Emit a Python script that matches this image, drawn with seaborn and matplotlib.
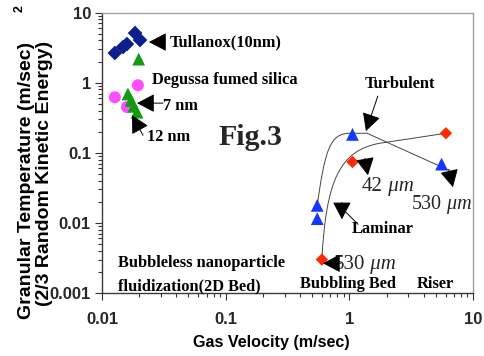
import matplotlib
matplotlib.use("Agg")
import numpy as np
import pandas as pd
import matplotlib.pyplot as plt
import seaborn as sns
from matplotlib.path import Path
from matplotlib.patches import PathPatch
from matplotlib.ticker import LogLocator, NullFormatter

# ---------------- data ----------------
tullanox_x = [0.0127, 0.0148, 0.0159, 0.0185, 0.0203]
tullanox_y = [2.65, 3.23, 3.56, 5.11, 4.06]

degussa_tri_x = [0.0198, 0.0162, 0.0172, 0.0181, 0.0192]
degussa_tri_y = [2.17, 0.69, 0.56, 0.46, 0.38]

degussa_circ_x = [0.0127, 0.0195, 0.0159]
degussa_circ_y = [0.62, 0.92, 0.45]

blue_tri_x = [0.55, 0.55, 1.06, 5.57]
blue_tri_y = [0.0178, 0.0115, 0.183, 0.069]

red_dia_x = [0.60, 1.06, 6.04]
red_dia_y = [0.0030, 0.074, 0.19]

xticks = [0.01, 0.1, 1, 10]
xtick_labels = ["0.01", "0.1", "1", "10"]
yticks = [0.001, 0.01, 0.1, 1, 10]
ytick_labels = ["0.001", "0.01", "0.1", "1", "10"]

# hand-drawn guide curves (data coordinates: start, two control points, end, then straight legs)
curve_a = [(0.55, 0.0178), (0.635, 0.109), (0.697, 0.19), (1.01, 0.19), (1.39, 0.19), (6.38, 0.0564)]
curve_b = [(0.60, 0.0030), (0.647, 0.0406), (0.84, 0.109), (1.77, 0.137), (6.04, 0.19)]

# ---------------- frame ----------------
df = pd.concat([
    pd.DataFrame({"x": tullanox_x, "y": tullanox_y, "series": "Tullanox"}),
    pd.DataFrame({"x": degussa_circ_x, "y": degussa_circ_y, "series": "DegussaC"}),
    pd.DataFrame({"x": degussa_tri_x, "y": degussa_tri_y, "series": "DegussaT"}),
    pd.DataFrame({"x": blue_tri_x, "y": blue_tri_y, "series": "BlueT"}),
    pd.DataFrame({"x": red_dia_x, "y": red_dia_y, "series": "RedD"}),
], ignore_index=True)

palette = {"Tullanox": "#0c1f8f", "DegussaC": "#ff4cff", "DegussaT": "#129a12",
           "BlueT": "#1438ff", "RedD": "#ff2a00"}
markers = {"Tullanox": "D", "DegussaC": "o", "DegussaT": "^", "BlueT": "^", "RedD": "D"}
sizes = {"Tullanox": 56, "DegussaC": 74, "DegussaT": 85, "BlueT": 85, "RedD": 40}

sns.set_theme(style="white")
plt.rcParams['font.family'] = ['Liberation Sans', 'DejaVu Sans']

fig = plt.figure(figsize=(4.84, 3.56), dpi=100)
ax = fig.add_axes([102 / 484, 1 - 293 / 356, (473 - 102) / 484, (293 - 12.6) / 356])

ax.set_xscale("log")
ax.set_yscale("log")

# curves
def draw_curve(pts):
    codes = [Path.MOVETO, Path.CURVE4, Path.CURVE4, Path.CURVE4] + [Path.LINETO] * (len(pts) - 4)
    ax.add_patch(PathPatch(Path(pts, codes), transform=ax.transData, fill=False,
                           edgecolor="#454545", lw=0.7, zorder=1))

draw_curve(curve_a)
draw_curve(curve_b)

sns.scatterplot(data=df, x="x", y="y", hue="series", style="series", size="series",
                palette=palette, markers=markers, sizes=sizes, linewidth=0,
                legend=False, ax=ax, zorder=3)

ax.set_xlim(0.01, 10)
ax.set_ylim(0.001, 10)
ax.set_xticks(xticks, xtick_labels)
ax.set_yticks(yticks, ytick_labels)
ax.xaxis.set_minor_locator(LogLocator(base=10, subs=np.arange(2, 10)))
ax.yaxis.set_minor_locator(LogLocator(base=10, subs=np.arange(2, 10)))
ax.xaxis.set_minor_formatter(NullFormatter())
ax.yaxis.set_minor_formatter(NullFormatter())
ax.tick_params(which="both", bottom=True, left=True, top=False, right=False,
               direction="out", color="#333333", width=0.8)
ax.tick_params(which="major", length=5, labelsize=12)
ax.tick_params(which="minor", length=3)
ax.tick_params(axis="x", which="major", pad=9)
ax.tick_params(axis="y", which="major", pad=3)
for lab in ax.get_xticklabels() + ax.get_yticklabels():
    lab.set_fontweight("bold")
ax.set_xlabel("")
ax.set_ylabel("")
ax.grid(False)

for side in ["left", "bottom"]:
    ax.spines[side].set_color("#3a3a3a")
    ax.spines[side].set_linewidth(1.0)
for side in ["top", "right"]:
    ax.spines[side].set_color("#a0a0a0")
    ax.spines[side].set_linewidth(1.0)

# ---------------- texts ----------------
serif_b = dict(family="Liberation Serif", weight="bold", size=11.8, color="black")
ax.text(0.0355, 3.80, "Tullanox(10nm)", ha="left", va="center", **serif_b)
ax.text(0.02535, 1.09, "Degussa fumed silica", ha="left", va="center", **serif_b)
ax.text(0.0311, 0.46, "7 nm", ha="left", va="center", **serif_b)
ax.text(0.0231, 0.167, "12 nm", ha="left", va="center", **serif_b)
ax.text(0.157, 0.167, "Fig.3", ha="center", va="center", family="Liberation Serif",
        weight="bold", size=21.5)
ax.text(2.57, 0.955, "Turbulent", ha="center", va="center", **serif_b)
ax.text(1.87, 0.0081, "Laminar", ha="center", va="center", **serif_b)
ax.text(0.01346, 0.00265, "Bubbleless nanoparticle", ha="left", va="center", **serif_b)
ax.text(0.01346, 0.00124, "fluidization(2D Bed)", ha="left", va="center", **serif_b)
ax.text(0.398, 0.00133, "Bubbling Bed", ha="left", va="center", **serif_b)
ax.text(3.52, 0.00133, "Riser", ha="left", va="center", **serif_b)

def um_label(x, y, num, size=15.0):
    t = ax.text(x, y, num, ha="left", va="center", family="Liberation Serif", size=size, zorder=2)
    ax.annotate(" \u03bcm", xy=(1, 0), xycoords=t, ha="left", va="bottom",
                family="Liberation Serif", style="italic", size=size, zorder=2)

um_label(1.265, 0.0333, "42")
um_label(3.21, 0.01845, "530", 14.5)
um_label(0.745, 0.00256, "530")

# ---------------- pointer arrows ----------------
head = dict(arrowstyle="-|>,head_length=0.95,head_width=0.5", color="black", lw=0.7,
            shrinkA=0, shrinkB=0, mutation_scale=11.5)
arrows = [
    ((0.0240, 3.80), (0.0325, 3.80)),      # Tullanox
    ((0.0192, 0.511), (0.0311, 0.511)),    # 7 nm
    ((0.01748, 0.344), (0.02146, 0.178)),  # 12 nm
    ((1.362, 0.204), (1.70, 0.644)),       # Turbulent
    ((1.414, 0.0478), (1.337, 0.0830)),    # 42 um
    ((6.88, 0.0323), (6.38, 0.0580)),      # 530 um (right)
    ((0.871, 0.01125), (0.871, 0.0195)),   # Laminar
    ((0.612, 0.00265), (0.850, 0.00265)),  # 530 um (bottom)
]
for tip, tail in arrows:
    ax.annotate("", xy=tip, xytext=tail, xycoords="data", textcoords="data",
                arrowprops=head, zorder=4)
ax.annotate("", xy=(0.940, 0.01416), xytext=(1.175, 0.00955),
            arrowprops=dict(arrowstyle="-", color="black", lw=0.7, shrinkA=0, shrinkB=0))

# ---------------- axis titles ----------------
sans_b = dict(family="Liberation Sans", weight="bold", color="black")
fig.text(27 / 484, 1 - 180 / 356, "Granular Temperature (m/sec)", rotation=90,
         ha="center", va="center", size=14, **sans_b)
fig.text(45 / 484, 1 - 173 / 356, "(2/3 Random Kinetic Energy)", rotation=90,
         ha="center", va="center", size=14, **sans_b)
fig.text(20 / 484, 1 - 9 / 356, "2", rotation=90, ha="center", va="center", size=9, **sans_b)
fig.text(271 / 484, 1 - 343 / 356, "Gas Velocity (m/sec)", ha="center", va="center",
         size=11.6, **sans_b)

fig.savefig("out.png", dpi=100, facecolor="white")
